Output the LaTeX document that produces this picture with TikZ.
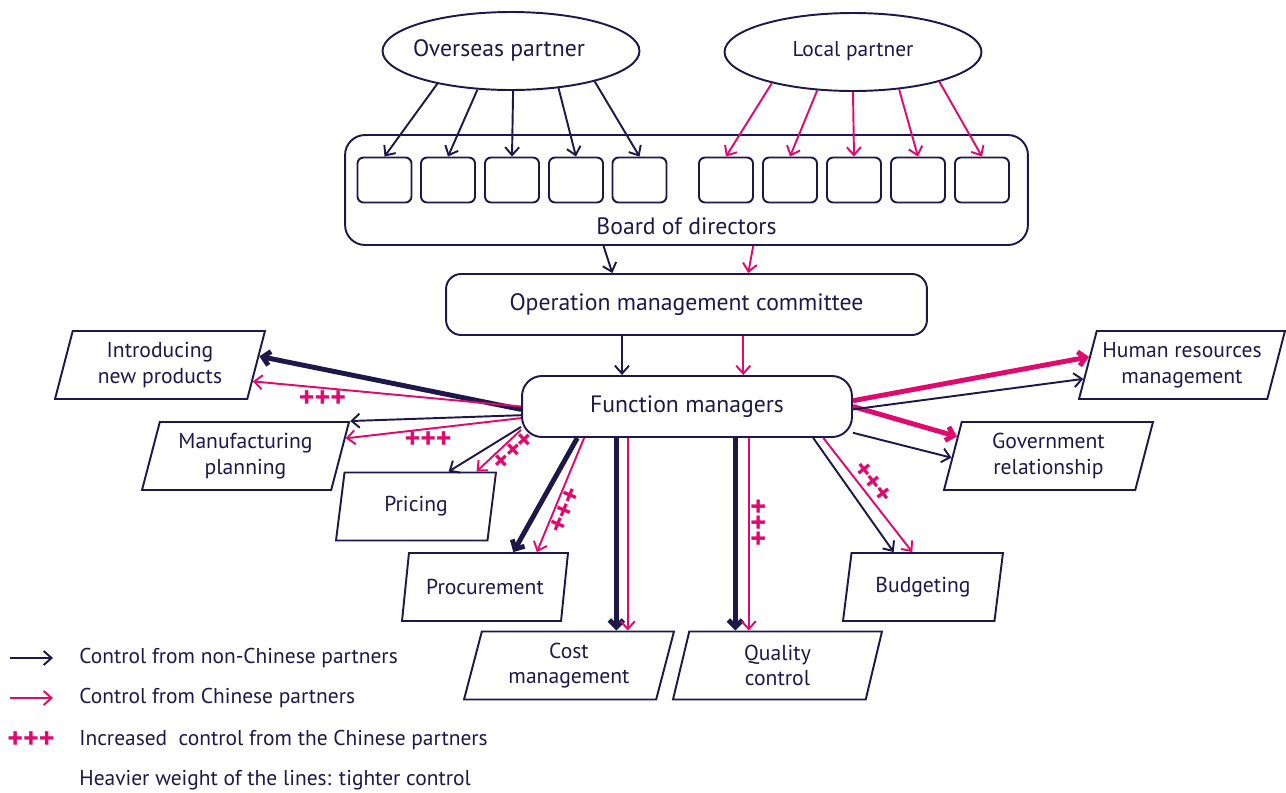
\documentclass[tikz,border=0pt]{standalone}
\usepackage{fontspec}
\setmainfont{PT Sans}
\usetikzlibrary{shapes.geometric, arrows.meta}
\definecolor{navy}{RGB}{30,24,72}
\definecolor{rose}{RGB}{222,10,110}
\tikzset{
    partner/.style = {ellipse, draw=navy, line width=1.1pt, minimum width=5.14cm, minimum height=1.56cm},
    seat/.style = {rectangle, rounded corners=0.12cm, draw=navy, line width=1.1pt, minimum width=1.08cm, minimum height=0.9cm},
    panel/.style = {rectangle, draw=navy, line width=1.1pt, text=navy, font=\fontsize{13.5}{16}\selectfont},
    task/.style = {trapezium, trapezium left angle=70, trapezium right angle=110, trapezium stretches body, draw=navy, line width=1.1pt, minimum height=1.36cm, align=center, text=navy, inner sep=1pt, font=\fontsize{12.3}{14.5}\selectfont},
    key/.style = {anchor=west, text=navy, inner sep=0pt, font=\fontsize{12.2}{14.5}\selectfont},
    abroad/.style = {navy, line width=1.1pt, -{Straight Barb[length=4.5pt, width=8pt]}},
    abroadheavy/.style = {navy, line width=2.8pt, -{Straight Barb[length=4pt, width=8pt]}},
    home/.style = {rose, line width=1.1pt, -{Straight Barb[length=4.5pt, width=8pt]}},
    homeheavy/.style = {rose, line width=2.8pt, -{Straight Barb[length=4pt, width=8pt]}},
    more/.style = {text=rose, inner sep=1pt, font=\fontsize{17}{17}\selectfont\bfseries}
}

\begin{document}
\begin{tikzpicture}[x=0.02cm, y=-0.02cm]
	\useasboundingbox (0,0) rectangle (1286,792);

	\node[partner](ov) at (511,51){};
	\node[text=navy, font=\fontsize{13.5}{16}\selectfont](ovtext) at (499,50){Overseas partner};
	\node[partner](loc) at (853,52){};
	\node[text=navy, font=\fontsize{12.2}{15}\selectfont](loctext) at (853,51){Local partner};

	\node[panel, rounded corners=0.4cm, minimum width=13.66cm, minimum height=2.2cm](board) at (686.5,190){};
	\node[text=navy, font=\fontsize{13.5}{16}\selectfont](boardtext) at (686.5,226){Board of directors};

	\node[seat](s1) at (384.5,180){};
	\node[seat](s2) at (448,180){};
	\node[seat](s3) at (512,180){};
	\node[seat](s4) at (576,180){};
	\node[seat](s5) at (639.5,180){};
	\node[seat](s6) at (726,180){};
	\node[seat](s7) at (790,180){};
	\node[seat](s8) at (854,180){};
	\node[seat](s9) at (918,180){};
	\node[seat](s10) at (982,180){};

	\node[panel, rounded corners=0.3cm, minimum width=9.62cm, minimum height=1.22cm](omc) at (686.5,304.5){Operation management committee};
	\node[panel, rounded corners=0.4cm, minimum width=6.6cm, minimum height=1.22cm](fm) at (687,406.5){Function managers};

	\node[task, minimum width=4.2cm](intro) at (160,365){Introducing\\new products};
	\node[task, minimum width=4.14cm](manuf) at (245.5,456){Manufacturing\\planning};
	\node[task, minimum width=3.2cm](pricing) at (416,506.5){Pricing};
	\node[task, minimum width=3.32cm](procure) at (485,587){Procurement};
	\node[task, minimum width=4.2cm](cost) at (569,665.5){Cost\\management};
	\node[task, minimum width=4.18cm](quality) at (777.5,665.5){Quality\\control};
	\node[task, minimum width=3.2cm](budget) at (923,587){Budgeting};
	\node[task, minimum width=4.18cm](gov) at (1048.5,456){Government\\relationship};
	\node[task, minimum width=4.12cm](hr) at (1182,365){Human resources\\management};

	\draw[abroad] (ov.204) -- (s1.north);
	\draw[abroad] (ov.229) -- (s2.north);
	\draw[abroad] (ov.273) -- (s3.north);
	\draw[abroad] (ov.322) -- (s4.north);
	\draw[abroad] (ov.340) -- (s5.north);
	\draw[home] (loc.201) -- (s6.north);
	\draw[home] (loc.227) -- (s7.north);
	\draw[home] (loc.270) -- (s8.north);
	\draw[home] (loc.321) -- (s9.north);
	\draw[home] (loc.341) -- (s10.north);

	\draw[abroad] (board.214.7) -- (omc.157.5);
	\draw[home] (board.320) -- (omc.27.5);
	\draw[abroad] (omc.206.4) -- (omc.206.4 |- fm.north);
	\draw[home] (omc.331.2) -- (omc.331.2 |- fm.north);

	\draw[abroadheavy] (fm.181) -- (intro.5);
	\draw[home] (fm.180) -- node[more, pos=0.74, below](p1){+++} (intro.350);
	\draw[abroad] (fm.183.7) -- (manuf.top right corner);
	\draw[home] (fm.184) -- node[more, pos=0.53, below](p2){+++} (manuf.10);
	\draw[abroad] (fm.187) -- (pricing.47);
	\draw[home] (fm.188) -- node[more, pos=0.32, sloped, below](p3){+++} (pricing.30);
	\draw[abroadheavy] (fm.196) -- (procure.51);
	\draw[home] (fm.197) -- node[more, pos=0.6, sloped, below](p4){+++} (procure.34);
	\draw[abroadheavy] (fm.204) -- (fm.204 |- cost.north);
	\draw[home] (fm.208.5) -- (fm.208.5 |- cost.north);
	\draw[abroadheavy] (fm.327.6) -- (fm.327.6 |- quality.north);
	\draw[home] (fm.333) -- node[more, pos=0.44, rotate=90, anchor=north](p5){+++} (fm.333 |- quality.north);
	\draw[abroad] (fm.346) -- (budget.130);
	\draw[home] (fm.347) -- node[more, pos=0.45, sloped, above](p6){+++} (budget.107);
	\draw[homeheavy] (fm.0) -- (gov.168);
	\draw[abroad] (fm.351.7) -- (gov.181);
	\draw[homeheavy] (fm.2) -- (hr.175);
	\draw[abroad] (fm.359) -- (hr.188);

	\coordinate (k1a) at (10,658);
	\coordinate (k1b) at (53,658);
	\coordinate (k2a) at (10,698);
	\coordinate (k2b) at (53,698);
	\draw[abroad] (k1a) -- (k1b);
	\draw[home] (k2a) -- (k2b);
	\node[more](k3mark) at (31,740){+++};
	\node[key](k1) at (79,658){Control from non-Chinese partners};
	\node[key](k2) at (79,698){Control from Chinese partners};
	\node[key](k3) at (79,740){Increased\ \ control from the Chinese partners};
	\node[key](k4) at (79,780){Heavier weight of the lines: tighter control};
\end{tikzpicture}
\end{document}
